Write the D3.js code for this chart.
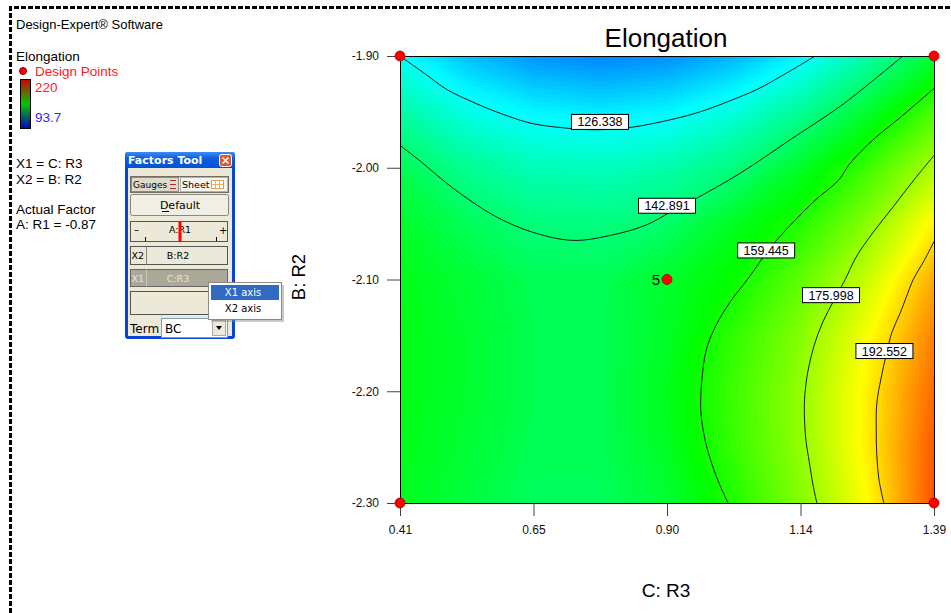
<!DOCTYPE html>
<html>
<head>
<meta charset="utf-8">
<script src="https://cdn.jsdelivr.net/npm/d3@7"></script>
<style>
body { margin: 0; background: #fff; }
svg { display: block; font-family: "Liberation Sans", Arial, sans-serif; }
</style>
</head>
<body>
<svg id="chart" width="951" height="613"></svg>
<script>
// response surface sampled on a 9 x 9 grid (C: R3 across, B: R2 down from -1.90)
const gridC = [0.41, 0.5325, 0.655, 0.7775, 0.90, 1.0225, 1.145, 1.2675, 1.39];
const gridB = [-1.90, -1.95, -2.00, -2.05, -2.10, -2.15, -2.20, -2.25, -2.30];
const elongation = [
  [126.3, 117.5, 112.1, 110.0, 111.4, 116.1, 124.2, 136.0, 150.0],
  [136.5, 128.6, 124.3, 122.9, 124.4, 129.5, 138.6, 150.9, 166.0],
  [147.0, 138.8, 134.3, 133.3, 135.6, 141.3, 151.9, 164.2, 178.3],
  [151.5, 146.0, 141.9, 141.3, 144.0, 152.7, 161.0, 173.6, 189.7],
  [154.0, 150.0, 146.5, 146.4, 151.5, 157.6, 168.8, 181.7, 199.0],
  [154.5, 151.0, 147.0, 146.5, 152.0, 162.7, 173.3, 187.7, 204.0],
  [154.5, 151.0, 147.0, 146.5, 153.5, 164.4, 175.0, 190.1, 207.0],
  [154.0, 150.5, 146.5, 146.5, 152.5, 163.6, 174.9, 190.2, 209.0],
  [153.0, 149.0, 145.5, 145.5, 150.5, 160.5, 172.9, 188.4, 210.0]
];

// contour lines as traced on the plot, [C, B]
const levels = [126.338, 142.891, 159.445, 175.998, 192.552];
const line126 = [[0.410,-1.900],[0.456,-1.916],[0.496,-1.930],[0.538,-1.940],[0.587,-1.950],[0.649,-1.960],[0.704,-1.964],[0.768,-1.966],[0.832,-1.964],[0.924,-1.955],[0.973,-1.948],[1.016,-1.940],[1.065,-1.930],[1.117,-1.916],[1.172,-1.900]];
const line142 = [[0.410,-1.980],[0.447,-1.994],[0.496,-2.014],[0.538,-2.029],[0.587,-2.044],[0.649,-2.057],[0.727,-2.065],[0.801,-2.060],[0.863,-2.051],[0.905,-2.040],[0.948,-2.029],[1.034,-2.005],[1.126,-1.975],[1.218,-1.945],[1.273,-1.924],[1.333,-1.900]];
const line159 = [[1.390,-1.929],[1.328,-1.955],[1.278,-1.975],[1.236,-1.996],[1.215,-2.011],[1.172,-2.029],[1.131,-2.049],[1.089,-2.072],[1.049,-2.099],[1.016,-2.120],[0.990,-2.141],[0.972,-2.163],[0.964,-2.190],[0.962,-2.217],[0.970,-2.244],[0.983,-2.266],[0.997,-2.284],[1.012,-2.300]];
const line176 = [[1.390,-1.989],[1.353,-2.011],[1.315,-2.035],[1.278,-2.058],[1.247,-2.080],[1.227,-2.100],[1.207,-2.118],[1.186,-2.138],[1.170,-2.159],[1.159,-2.181],[1.153,-2.203],[1.152,-2.219],[1.155,-2.244],[1.161,-2.263],[1.168,-2.284],[1.175,-2.300]];
const line192 = [[1.390,-2.066],[1.372,-2.083],[1.352,-2.100],[1.339,-2.116],[1.328,-2.130],[1.313,-2.147],[1.302,-2.168],[1.293,-2.188],[1.285,-2.211],[1.284,-2.234],[1.285,-2.257],[1.289,-2.279],[1.298,-2.300]];
const labelC = [0.777, 0.900, 1.082, 1.201, 1.299];
const labelB = [-1.959, -2.034, -2.074, -2.114, -2.164];

// design points
const designC = [0.41, 1.39, 0.41, 1.39, 0.90];
const designB = [-1.90, -1.90, -2.30, -2.30, -2.10];
const designRuns = ["", "", "", "", "5"];

const xTicks = [0.41, 0.655, 0.90, 1.145, 1.39];
const xTickLabels = ["0.41", "0.65", "0.90", "1.14", "1.39"];
const yTicks = [-1.90, -2.00, -2.10, -2.20, -2.30];
const yTickLabels = ["-1.90", "-2.00", "-2.10", "-2.20", "-2.30"];

const colorStops = [93.7, 125.25, 156.85, 188.4, 220];
const colorRange = ["#0000ff", "#00ffff", "#00ff00", "#ffff00", "#ff0000"];

const svg = d3.select("#chart");
const plot = {left: 400, right: 934, top: 56, bottom: 503};

const x = d3.scaleLinear().domain([0.41, 1.39]).range([plot.left, plot.right]);
const y = d3.scaleLinear().domain([-2.30, -1.90]).range([plot.bottom, plot.top]);
const color = d3.scaleLinear().domain(colorStops).range(colorRange).clamp(true);

// dashed frame
svg.append("path")
  .attr("d", "M10.5,613 L10.5,7.5 L951,7.5")
  .attr("fill", "none")
  .attr("stroke", "#000")
  .attr("stroke-width", 3)
  .attr("stroke-dasharray", "5,2");

//filled surface
svg.append("clipPath").attr("id", "plotClip")
  .append("rect")
  .attr("x", plot.left).attr("y", plot.top)
  .attr("width", plot.right - plot.left).attr("height", plot.bottom - plot.top);

const gx = d3.scaleLinear().domain([0.5, gridC.length - 0.5]).range([x(gridC[0]), x(gridC[gridC.length - 1])]);
const gy = d3.scaleLinear().domain([0.5, gridB.length - 0.5]).range([y(gridB[0]), y(gridB[gridB.length - 1])]);
const proj = d3.geoTransform({point: function(u, v) { this.stream.point(gx(u), gy(v)); }});
const gridPath = d3.geoPath(proj);

const bands = d3.contours()
  .size([gridC.length, gridB.length])
  .thresholds(d3.range(100, 216, 1))(elongation.flat());

svg.append("g")
  .attr("clip-path", "url(#plotClip)")
  .selectAll("path")
  .data(bands)
  .join("path")
    .attr("d", gridPath)
    .attr("fill", d => color(d.value + 0.5));

// contour lines
const line = d3.line().x(d => x(d[0])).y(d => y(d[1])).curve(d3.curveCatmullRom.alpha(0.5));
svg.append("g")
  .attr("clip-path", "url(#plotClip)")
  .selectAll("path")
  .data([line126, line142, line159, line176, line192])
  .join("path")
    .attr("d", line)
    .attr("fill", "none")
    .attr("stroke", "#1a1a1a")
    .attr("stroke-width", 1);

// contour labels
const lab = svg.append("g").selectAll("g")
  .data(levels)
  .join("g")
    .attr("transform", (d, i) => `translate(${x(labelC[i])},${y(labelB[i])})`);
lab.append("rect")
  .attr("x", -28.5).attr("y", -7.5)
  .attr("width", 57).attr("height", 15)
  .attr("fill", "#fff")
  .attr("stroke", "#000");
lab.append("text")
  .attr("text-anchor", "middle")
  .attr("dy", "0.36em")
  .style("font-size", "12.5px")
  .text(d => d.toFixed(3));

// plot frame
svg.append("rect")
  .attr("x", plot.left + 0.5).attr("y", plot.top + 0.5)
  .attr("width", plot.right - plot.left).attr("height", plot.bottom - plot.top)
  .attr("fill", "none")
  .attr("stroke", "#000");

// axes
const yAxis = svg.append("g")
  .attr("transform", `translate(${plot.left},0)`)
  .call(d3.axisLeft(y).tickValues(yTicks).tickFormat((d, i) => yTickLabels[i]).tickSize(13).tickPadding(8));
const xAxis = svg.append("g")
  .attr("transform", `translate(0,${plot.bottom})`)
  .call(d3.axisBottom(x).tickValues(xTicks).tickFormat((d, i) => xTickLabels[i]).tickSize(13).tickPadding(9));
[xAxis, yAxis].forEach(a => {
  a.select(".domain").remove();
  a.selectAll("line").attr("stroke", "#444");
  a.selectAll("text").style("font-size", "12px").attr("fill", "#111")
    .style("font-family", "'Liberation Sans', Arial, sans-serif");
});

// design points
svg.append("g").selectAll("circle")
  .data(designC)
  .join("circle")
    .attr("cx", d => x(d))
    .attr("cy", (d, i) => y(designB[i]))
    .attr("r", 5)
    .attr("fill", "#ff0000")
    .attr("stroke", "#a00000")
    .attr("stroke-width", 0.8);
svg.append("g").selectAll("text")
  .data(designC)
  .join("text")
    .attr("x", d => x(d) - 7)
    .attr("y", (d, i) => y(designB[i]) + 5)
    .attr("text-anchor", "end")
    .style("font-size", "15px")
    .text((d, i) => designRuns[i]);

//titles
svg.append("text")
  .attr("x", 666).attr("y", 47)
  .attr("text-anchor", "middle")
  .style("font-size", "26px")
  .text("Elongation");
svg.append("text")
  .attr("x", 666).attr("y", 597)
  .attr("text-anchor", "middle")
  .style("font-size", "19px")
  .text("C: R3");
svg.append("text")
  .attr("transform", "translate(305,277) rotate(-90)")
  .attr("text-anchor", "middle")
  .style("font-size", "18.5px")
  .text("B: R2");

// legend block on the left
const leg = svg.append("g");
leg.append("text").attr("x", 16).attr("y", 29).style("font-size", "13px").text("Design-Expert\u00ae Software");
leg.append("text").attr("x", 16).attr("y", 61).style("font-size", "13.5px").text("Elongation");
leg.append("circle").attr("cx", 23).attr("cy", 71).attr("r", 3.5).attr("fill", "#ff0000").attr("stroke", "#800");
leg.append("text").attr("x", 35).attr("y", 76).style("font-size", "13.5px").attr("fill", "#ff1a1a").text("Design Points");

const grad = svg.append("defs").append("linearGradient")
  .attr("id", "barGrad").attr("x1", 0).attr("y1", 0).attr("x2", 0).attr("y2", 1);
[["0%", "#d00000"], ["50%", "#00c800"], ["100%", "#0000c8"]].forEach(s =>
  grad.append("stop").attr("offset", s[0]).attr("stop-color", s[1]));
leg.append("rect").attr("x", 20.5).attr("y", 79.5).attr("width", 10).attr("height", 49)
  .attr("fill", "url(#barGrad)").attr("stroke", "#000");
leg.append("text").attr("x", 35).attr("y", 92).style("font-size", "13.5px").attr("fill", "#ff1a1a").text(d3.max(colorStops));
leg.append("text").attr("x", 35).attr("y", 122).style("font-size", "13.5px").attr("fill", "#2a2aff").text(d3.min(colorStops));

leg.append("text").attr("x", 16).attr("y", 168).style("font-size", "13.5px").text("X1 = C: R3");
leg.append("text").attr("x", 16).attr("y", 184).style("font-size", "13.5px").text("X2 = B: R2");
leg.append("text").attr("x", 16).attr("y", 214).style("font-size", "13.5px").text("Actual Factor");
leg.append("text").attr("x", 16).attr("y", 229).style("font-size", "13.5px").text("A: R1 = -0.87");

// factors tool window
const ft = svg.append("g").style("font-family", "Tahoma, 'DejaVu Sans', sans-serif");
const tbGrad = svg.select("defs").append("linearGradient")
  .attr("id", "tbGrad").attr("x1", 0).attr("y1", 0).attr("x2", 0).attr("y2", 1);
[["0%", "#3d8cf5"], ["40%", "#0a5fe0"], ["100%", "#0550d0"]].forEach(s =>
  tbGrad.append("stop").attr("offset", s[0]).attr("stop-color", s[1]));

ft.append("rect").attr("x", 125).attr("y", 152).attr("width", 110).attr("height", 187).attr("rx", 3).attr("fill", "#0847d6");
ft.append("rect").attr("x", 125).attr("y", 152).attr("width", 110).attr("height", 16).attr("rx", 3).attr("fill", "url(#tbGrad)");
ft.append("text").attr("x", 128).attr("y", 164).style("font-size", "11px").style("font-weight", "bold").attr("fill", "#fff").text("Factors Tool");
ft.append("rect").attr("x", 219.5).attr("y", 154.5).attr("width", 12).attr("height", 12).attr("rx", 2).attr("fill", "#e2572f").attr("stroke", "#fff");
ft.append("path").attr("d", "M222.5,157.5 L228.5,163.5 M228.5,157.5 L222.5,163.5").attr("stroke", "#fff").attr("stroke-width", 1.6);
ft.append("rect").attr("x", 128).attr("y", 168).attr("width", 104).attr("height", 168).attr("fill", "#ece9d8");

// gauges / sheet toggle
ft.append("rect").attr("x", 130.5).attr("y", 176.5).attr("width", 98).attr("height", 16).attr("fill", "#ece9d8").attr("stroke", "#716f64");
ft.append("rect").attr("x", 131.5).attr("y", 177.5).attr("width", 47).attr("height", 14).attr("fill", "#dedbcc").attr("stroke", "#8d8b80");
ft.append("text").attr("x", 133).attr("y", 188).style("font-size", "9px").text("Gauges");
ft.append("path").attr("d", "M170,180.5 h6 M170,184.5 h6 M170,188.5 h6").attr("stroke", "#b03030").attr("stroke-width", 1);
ft.append("rect").attr("x", 180.5).attr("y", 177.5).attr("width", 47).attr("height", 14).attr("fill", "#f5f4ee").attr("stroke", "#b5b2a5");
ft.append("text").attr("x", 182).attr("y", 188).style("font-size", "9.5px").text("Sheet");
ft.append("rect").attr("x", 211.5).attr("y", 180.5).attr("width", 12).attr("height", 8).attr("fill", "#fff").attr("stroke", "#e0a050");
ft.append("path").attr("d", "M215.5,180.5 v8 M219.5,180.5 v8 M211.5,184.5 h12").attr("stroke", "#e0a050").attr("stroke-width", 0.8);

// default button
ft.append("rect").attr("x", 130.5).attr("y", 194.5).attr("width", 98).attr("height", 21).attr("rx", 2).attr("fill", "#f1efe5").attr("stroke", "#8a8778");
ft.append("text").attr("x", 180).attr("y", 209).attr("text-anchor", "middle").style("font-size", "11px").text("Default");
ft.append("path").attr("d", "M162,211.5 h7").attr("stroke", "#000");

// gauge A
ft.append("rect").attr("x", 130.5).attr("y", 221.5).attr("width", 97).attr("height", 20).attr("fill", "#ece9d8").attr("stroke", "#555");
ft.append("text").attr("x", 134).attr("y", 233).style("font-size", "10px").text("\u2013");
ft.append("text").attr("x", 180).attr("y", 233).attr("text-anchor", "middle").style("font-size", "9.5px").text("A:R1");
ft.append("text").attr("x", 219).attr("y", 234).style("font-size", "10px").text("+");
ft.append("path").attr("d", "M145.5,237 v4 M216.5,237 v4").attr("stroke", "#000");
ft.append("rect").attr("x", 178.5).attr("y", 222).attr("width", 3).attr("height", 20).attr("fill", "#ff0000");

// X2 row
ft.append("rect").attr("x", 130.5).attr("y", 246.5).attr("width", 97).attr("height", 18).attr("fill", "#ece9d8").attr("stroke", "#555");
ft.append("path").attr("d", "M146.5,246.5 v18").attr("stroke", "#888");
ft.append("text").attr("x", 131.5).attr("y", 259).style("font-size", "9.5px").text("X2");
ft.append("text").attr("x", 178).attr("y", 259).attr("text-anchor", "middle").style("font-size", "9.5px").text("B:R2");

// X1 row (selected)
ft.append("rect").attr("x", 130.5).attr("y", 269.5).attr("width", 97).attr("height", 17).attr("fill", "#aca899").attr("stroke", "#666");
ft.append("path").attr("d", "M146.5,269.5 v17").attr("stroke", "#c9c6b8");
ft.append("text").attr("x", 131.5).attr("y", 282).style("font-size", "9.5px").attr("fill", "#e6e4da").text("X1");
ft.append("text").attr("x", 178).attr("y", 282).attr("text-anchor", "middle").style("font-size", "9.5px").attr("fill", "#e6e4da").text("C:R3");

// empty slot
ft.append("rect").attr("x", 130.5).attr("y", 291.5).attr("width", 97).attr("height", 23).attr("fill", "#ece9d8").attr("stroke", "#555");

// term box
ft.append("text").attr("x", 130).attr("y", 333).style("font-size", "12px").text("Term");
ft.append("rect").attr("x", 161.5).attr("y", 318.5).attr("width", 66).attr("height", 19).attr("fill", "#fff").attr("stroke", "#7f9db9");
ft.append("text").attr("x", 165).attr("y", 333).style("font-size", "12px").text("BC");
ft.append("rect").attr("x", 212.5).attr("y", 320.5).attr("width", 13).attr("height", 15).attr("fill", "#ece9d8").attr("stroke", "#aaa");
ft.append("path").attr("d", "M216,326 h6 l-3,4 z").attr("fill", "#000");

// context menu
ft.append("rect").attr("x", 211).attr("y", 285).attr("width", 73).attr("height", 37).attr("fill", "#888").attr("opacity", 0.45);
ft.append("rect").attr("x", 208.5).attr("y", 282.5).attr("width", 73).attr("height", 37).attr("fill", "#fff").attr("stroke", "#8a8a8a");
ft.append("rect").attr("x", 211).attr("y", 285).attr("width", 68).attr("height", 15).attr("fill", "#316ac5");
ft.append("text").attr("x", 243).attr("y", 296).attr("text-anchor", "middle").style("font-size", "10px").attr("fill", "#fff").text("X1 axis");
ft.append("text").attr("x", 243).attr("y", 312).attr("text-anchor", "middle").style("font-size", "10px").text("X2 axis");
</script>
</body>
</html>
